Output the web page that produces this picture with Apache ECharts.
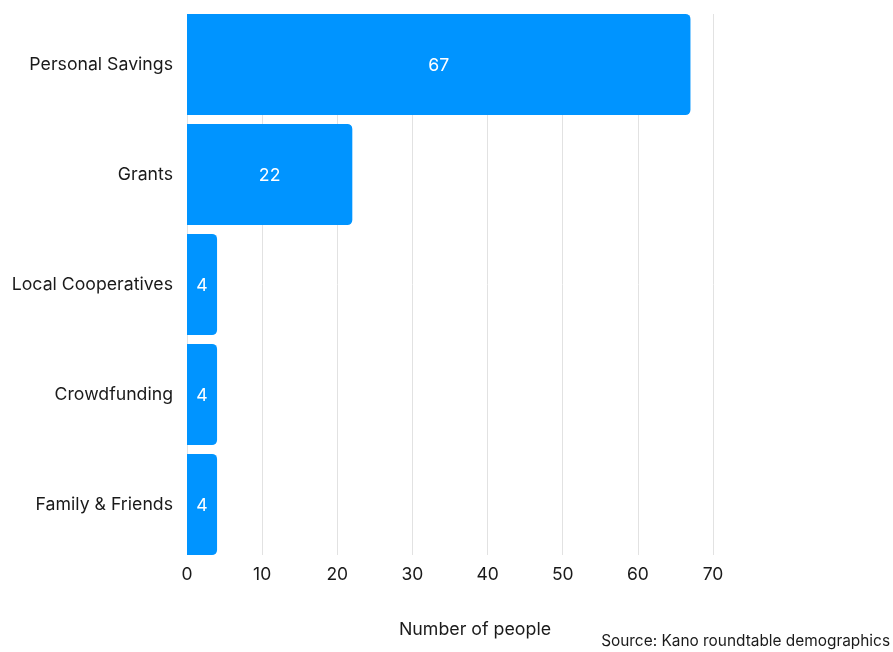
<!DOCTYPE html>
<html>
<head>
<meta charset="utf-8">
<script src="https://cdn.jsdelivr.net/npm/echarts@6/dist/echarts.min.js"></script>
<style>html,body{margin:0;padding:0;background:#fff}#c{width:893px;height:652px}</style>
</head>
<body>
<div id="c"></div>
<script>
const categories = ['Personal Savings', 'Grants', 'Local Cooperatives', 'Crowdfunding', 'Family & Friends'];
const values = [67, 22, 4, 4, 4];
const xTicks = [0, 10, 20, 30, 40, 50, 60, 70];

const FONT = 'Inter, "Noto Sans", sans-serif';
const chart = echarts.init(document.getElementById('c'));
chart.setOption({
  backgroundColor: '#fff',
  animation: false,
  grid: [
    { left: 187, right: 180, top: 14, height: 541 },
    { left: 187, right: 180, top: 9.5, height: 550 }
  ],
  xAxis: [
    {
      gridIndex: 0, type: 'value', min: xTicks[0], max: xTicks[xTicks.length - 1], interval: 10,
      axisLine: { show: false }, axisTick: { show: false },
      splitLine: { show: true, lineStyle: { color: '#e2e2e2', width: 1 } },
      axisLabel: { color: '#1a1a1a', fontSize: 17.5, fontFamily: FONT, margin: 11 },
      name: 'Number of people', nameLocation: 'middle', nameGap: 66,
      nameTextStyle: { color: '#1a1a1a', fontSize: 17.8, fontFamily: FONT, padding: [0, 0, 0, 50] }
    },
    {
      gridIndex: 1, type: 'value', min: xTicks[0], max: xTicks[xTicks.length - 1], interval: 10,
      show: false, splitLine: { show: false }
    }
  ],
  yAxis: [
    {
      gridIndex: 0, type: 'category', data: categories, inverse: true, show: false
    },
    {
      gridIndex: 1, type: 'category', data: categories, inverse: true,
      axisLine: { show: false }, axisTick: { show: false },
      axisLabel: { color: '#1a1a1a', fontSize: 17.7, fontFamily: FONT, margin: 14 }
    }
  ],
  series: [{
    type: 'bar', xAxisIndex: 1, yAxisIndex: 1,
    data: values, barCategoryGap: '8%',
    itemStyle: { color: '#0094ff', borderRadius: [0, 5, 5, 0] },
    label: { show: true, position: 'inside', color: '#fff', fontSize: 17.7, fontFamily: FONT, offset: [0, 1] }
  }],
  graphic: [{
    type: 'text', right: 3, top: 634,
    style: { text: 'Source: Kano roundtable demographics', fill: '#1a1a1a', fontSize: 15.4, fontFamily: FONT }
  }]
});
</script>
</body>
</html>
